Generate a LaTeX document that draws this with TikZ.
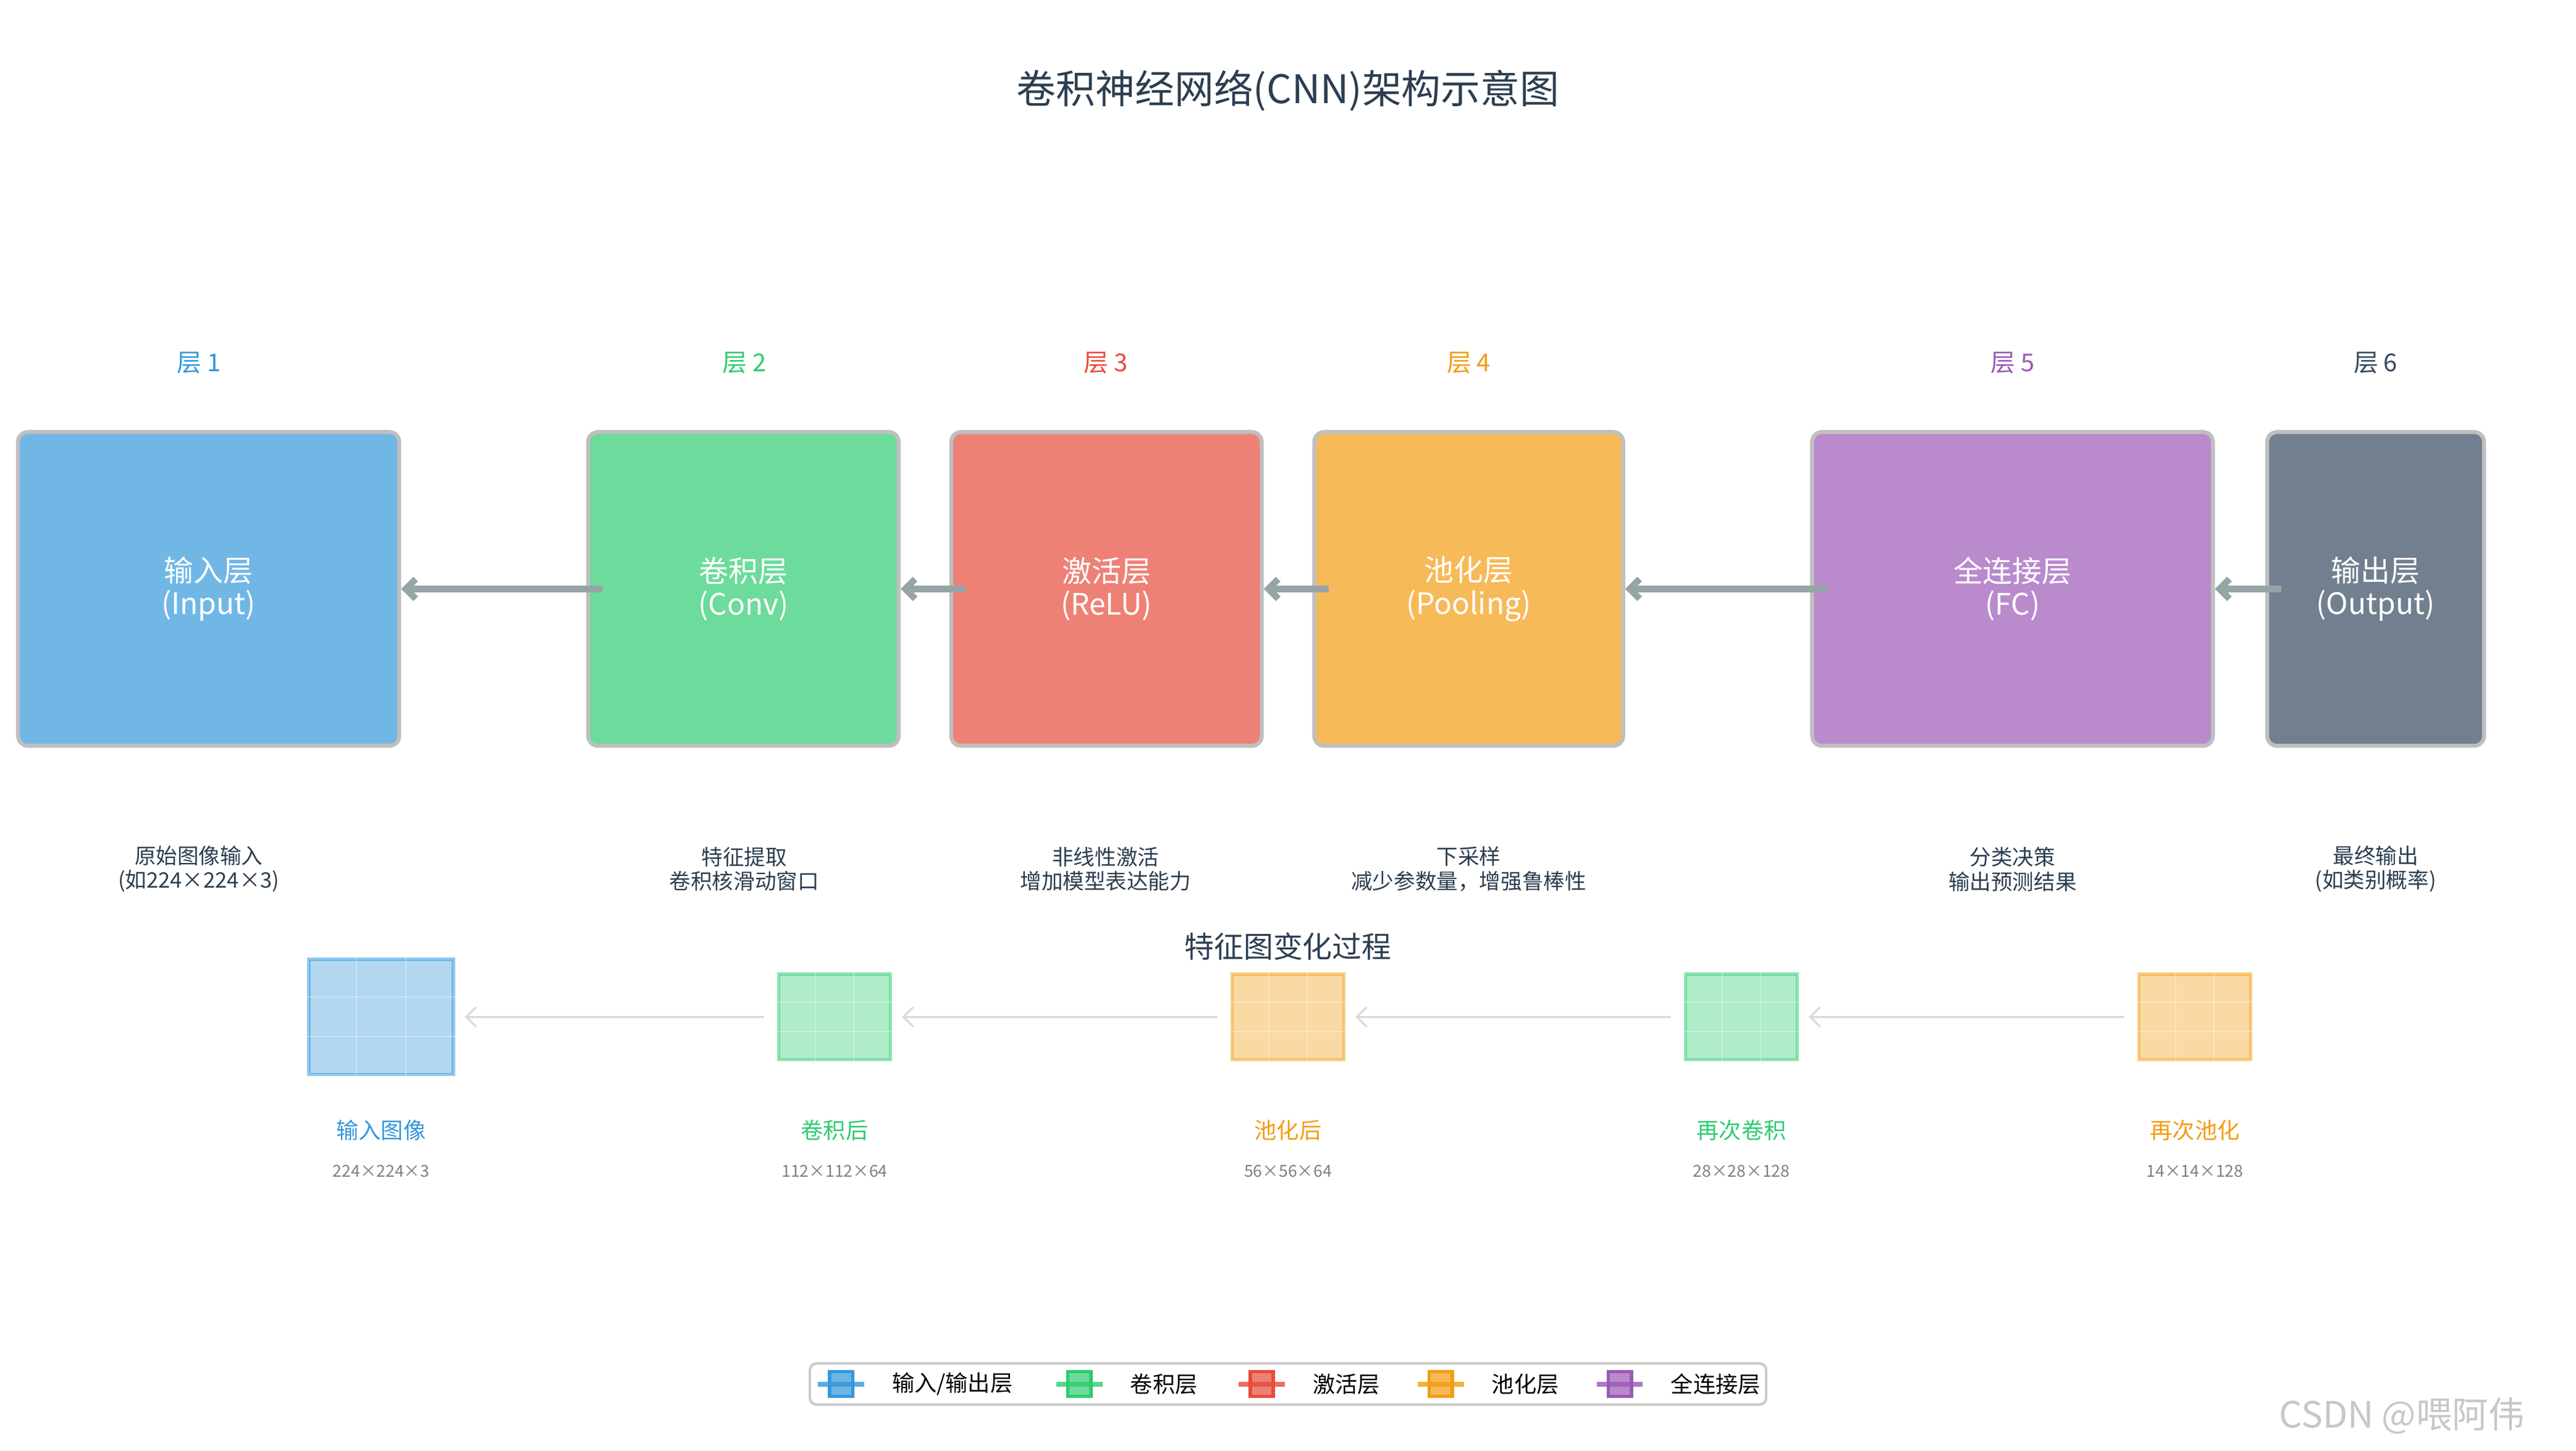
\documentclass[tikz,border=0pt]{standalone}
\usepackage{fontspec}
\setmainfont{Noto Sans CJK SC}
\usetikzlibrary{arrows.meta,calc}
\definecolor{cblue}{HTML}{3498DB}
\definecolor{cgreen}{HTML}{2ECC71}
\definecolor{cred}{HTML}{E74C3C}
\definecolor{corange}{HTML}{F39C12}
\definecolor{cpurple}{HTML}{9B59B6}
\definecolor{cdark}{HTML}{34495E}
\definecolor{cgray}{HTML}{95A5A6}
\definecolor{ctext}{HTML}{2C3E50}
\tikzset{
 layerbox/.style={draw=black!25,line width=1.2pt,rounded corners=3pt,fill opacity=0.7,text opacity=1,text=white,align=center,font=\fontsize{9}{10}\selectfont,inner sep=0pt},
 flow/.style={draw=cgray,line width=2pt,-{Straight Barb[length=3pt,width=6pt]}},
 fmflow/.style={draw=black!15,line width=0.6pt,-{Straight Barb[length=3pt,width=6pt]}},
 fmap/.style={draw,line width=1pt,fill opacity=0.38,draw opacity=0.5,inner sep=0pt},
 desc/.style={text=ctext,align=center,font=\fontsize{6.5}{7.5}\selectfont},
 lnum/.style={font=\fontsize{7.5}{9}\selectfont},
 fmlab/.style={font=\fontsize{6.8}{8}\selectfont},
 fmdim/.style={text=black!50,font=\fontsize{5}{6}\selectfont},
 legtxt/.style={font=\fontsize{6.8}{8}\selectfont,anchor=west}
}
\begin{document}
\begin{tikzpicture}[x=0.5pt,y=-0.5pt]
\useasboundingbox (0,0) rectangle (1568,883);
\node[text=ctext,font=\fontsize{12}{14}\selectfont] (title) at (784,55) {卷积神经网络(CNN)架构示意图};
% layer labels
\node[lnum,text=cblue] (l1) at (121,221) {层\ 1};
\node[lnum,text=cgreen] (l2) at (453,221) {层\ 2};
\node[lnum,text=cred] (l3) at (673,221) {层\ 3};
\node[lnum,text=corange] (l4) at (894,221) {层\ 4};
\node[lnum,text=cpurple] (l5) at (1225,221) {层\ 5};
\node[lnum,text=cdark] (l6) at (1446,221) {层\ 6};
% boxes
\node[layerbox,fill=cblue,minimum width=116pt,minimum height=95.5pt] (b1) at (127,358.5) {输入层\\(Input)};
\node[layerbox,fill=cgreen,minimum width=94.5pt,minimum height=95.5pt] (b2) at (452.5,358.5) {卷积层\\(Conv)};
\node[layerbox,fill=cred,minimum width=94.5pt,minimum height=95.5pt] (b3) at (673.5,358.5) {激活层\\(ReLU)};
\node[layerbox,fill=corange,minimum width=94pt,minimum height=95.5pt] (b4) at (894,358.5) {池化层\\(Pooling)};
\node[layerbox,fill=cpurple,minimum width=122pt,minimum height=95.5pt] (b5) at (1225,358.5) {全连接层\\(FC)};
\node[layerbox,fill=cdark,minimum width=66pt,minimum height=95.5pt] (b6) at (1446,358.5) {输出层\\(Output)};
\draw[flow] ([xshift=5pt]b2.west) -- (b1.east);
\draw[flow] ([xshift=5pt]b3.west) -- (b2.east);
\draw[flow] ([xshift=5pt]b4.west) -- (b3.east);
\draw[flow] ([xshift=5pt]b5.west) -- (b4.east);
\draw[flow] ([xshift=5pt]b6.west) -- (b5.east);
% descriptions
\node[desc] (d1) at (121,529) {原始图像输入\\(如224×224×3)};
\node[desc] (d2) at (453,529) {特征提取\\卷积核滑动窗口};
\node[desc] (d3) at (673,529) {非线性激活\\增加模型表达能力};
\node[desc] (d4) at (894,529) {下采样\\减少参数量，增强鲁棒性};
\node[desc] (d5) at (1225,529) {分类决策\\输出预测结果};
\node[desc] (d6) at (1446,529) {最终输出\\(如类别概率)};
\node[text=ctext,font=\fontsize{9}{11}\selectfont] (fmt) at (784,576) {特征图变化过程};
% feature maps
\node[fmap,draw=cblue,fill=cblue,minimum width=44pt,minimum height=35pt] (f1) at (232,619) {};
\node[fmap,draw=cgreen,fill=cgreen,minimum width=34pt,minimum height=26pt] (f2) at (508,619) {};
\node[fmap,draw=corange,fill=corange,minimum width=34pt,minimum height=26pt] (f3) at (784,619) {};
\node[fmap,draw=cgreen,fill=cgreen,minimum width=34pt,minimum height=26pt] (f4) at (1060,619) {};
\node[fmap,draw=corange,fill=corange,minimum width=34pt,minimum height=26pt] (f5) at (1336,619) {};
\foreach \f in {f1,f2,f3,f4,f5}{
 \draw[white,opacity=0.3,line width=0.4pt] ($(\f.north west)!1/3!(\f.north east)$) -- ($(\f.south west)!1/3!(\f.south east)$);
 \draw[white,opacity=0.3,line width=0.4pt] ($(\f.north west)!2/3!(\f.north east)$) -- ($(\f.south west)!2/3!(\f.south east)$);
 \draw[white,opacity=0.3,line width=0.4pt] ($(\f.north west)!1/3!(\f.south west)$) -- ($(\f.north east)!1/3!(\f.south east)$);
 \draw[white,opacity=0.3,line width=0.4pt] ($(\f.north west)!2/3!(\f.south west)$) -- ($(\f.north east)!2/3!(\f.south east)$);
}
\draw[fmflow] ([xshift=-4pt]f2.west) -- ([xshift=3pt]f1.east);
\draw[fmflow] ([xshift=-4pt]f3.west) -- ([xshift=3pt]f2.east);
\draw[fmflow] ([xshift=-4pt]f4.west) -- ([xshift=3pt]f3.east);
\draw[fmflow] ([xshift=-4pt]f5.west) -- ([xshift=3pt]f4.east);
\node[fmlab,text=cblue] (n1) at (232,688) {输入图像};
\node[fmlab,text=cgreen] (n2) at (508,688) {卷积后};
\node[fmlab,text=corange] (n3) at (784,688) {池化后};
\node[fmlab,text=cgreen] (n4) at (1060,688) {再次卷积};
\node[fmlab,text=corange] (n5) at (1336,688) {再次池化};
\node[fmdim] (m1) at (232,713) {224×224×3};
\node[fmdim] (m2) at (508,713) {112×112×64};
\node[fmdim] (m3) at (784,713) {56×56×64};
\node[fmdim] (m4) at (1060,713) {28×28×128};
\node[fmdim] (m5) at (1336,713) {14×14×128};
% legend
\draw[black!20,line width=0.8pt,rounded corners=2pt,fill=white] (493,830) rectangle (1075,855);
\foreach \c/\x/\t in {cblue/512/输入\slash 输出层,cgreen/657/卷积层,cred/768/激活层,corange/877/池化层,cpurple/986/全连接层}{
 \draw[\c,line width=1.5pt,opacity=0.8] (\x-14,842.5) -- (\x+14,842.5);
 \filldraw[draw=\c,fill=\c,fill opacity=0.7,line width=1pt] (\x-7,835) rectangle (\x+7,850);
 \node[legtxt] at (\x+24,842.5) {\t};
}
\node[text=black!22,font=\fontsize{11}{13}\selectfont] (wm) at (1462,862) {CSDN @喂阿伟};
\end{tikzpicture}
\end{document}
